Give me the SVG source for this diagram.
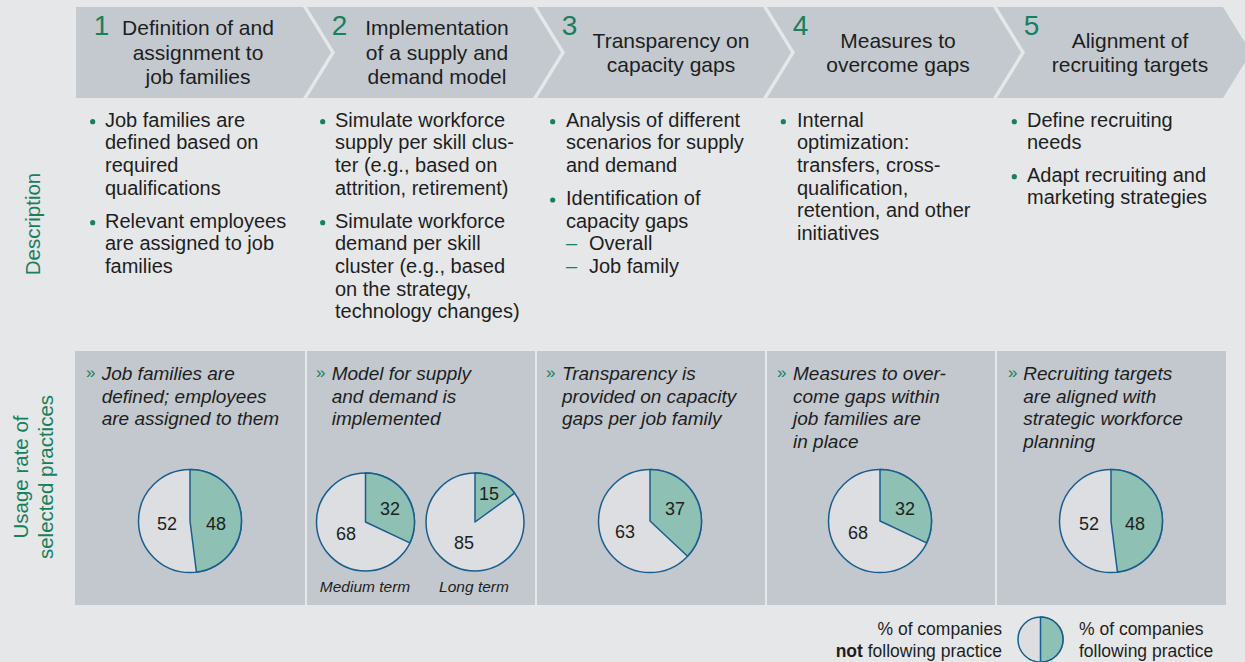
<svg xmlns="http://www.w3.org/2000/svg" width="1245" height="662" viewBox="0 0 1245 662">
<style>
.bg{fill:#e6e7e9}
.chev{fill:#c3c9cf}
.box{fill:#c2c8ce}
text{font-family:"Liberation Sans",Arial,sans-serif}
.num{font-size:28px;fill:#17805c;text-anchor:middle}
.ht{font-size:21px;fill:#1e1e1e;text-anchor:middle}
.dt{font-size:20px;fill:#1e1e1e}
.dash{font-size:20px;fill:#17805c}
.bul{fill:#17805c}
.lab{font-size:20.5px;fill:#17805c;text-anchor:middle}
.it{font-size:19px;font-style:italic;fill:#1e1e1e}
.raq{font-size:17px;fill:#17805c}
.pv{font-size:18px;fill:#1e1e1e;text-anchor:middle}
.cap{font-size:15.5px;font-style:italic;fill:#1e1e1e;text-anchor:middle}
.leg{font-size:17.5px;fill:#1e1e1e}
.pc{fill:#dcdee1;stroke:#1a5e8e;stroke-width:1.5}
.ps{fill:#8ec0b3;stroke:#1a5e8e;stroke-width:1.5;stroke-linejoin:round}
</style>
<rect class="bg" x="0" y="0" width="1245" height="662"/>

<g id="row-labels">
<text class="lab" transform="translate(40,224) rotate(-90)">Description</text>
<text class="lab" transform="translate(28,477) rotate(-90)">Usage rate of</text>
<text class="lab" transform="translate(53,477) rotate(-90)">selected practices</text>
</g>

<g id="step1">
<path class="chev" d="M76,7 H303 L331,52.5 L303,98 H76 Z"/>
<text class="num" x="101.5" y="35">1</text>
<text class="ht" x="198" y="35">Definition of and</text>
<text class="ht" x="198" y="59.5">assignment to</text>
<text class="ht" x="198" y="83.5">job families</text>
<circle class="bul" cx="92.7" cy="121.7" r="2.6"/>
<text class="dt" x="105" y="126.7">Job families are</text>
<text class="dt" x="105" y="149.3">defined based on</text>
<text class="dt" x="105" y="171.9">required</text>
<text class="dt" x="105" y="194.5">qualifications</text>
<circle class="bul" cx="92.7" cy="222.7" r="2.6"/>
<text class="dt" x="105" y="227.7">Relevant employees</text>
<text class="dt" x="105" y="250.3">are assigned to job</text>
<text class="dt" x="105" y="272.9">families</text>
<rect class="box" x="75" y="351" width="230" height="254"/>
<text class="raq" x="86" y="378">»</text>
<text class="it" x="101.7" y="380">Job families are</text>
<text class="it" x="101.7" y="402.7">defined; employees</text>
<text class="it" x="101.7" y="425.4">are assigned to them</text>
<circle class="pc" cx="190" cy="521" r="51.5"/>
<path class="ps" d="M190,469.5 A51.5,51.5 0 0 1 196.45,572.09 L190,521 Z"/>
<text class="pv" x="167" y="529.5">52</text>
<text class="pv" x="216" y="529.5">48</text>
</g>

<g id="step2">
<path class="chev" d="M307,7 H533 L561,52.5 L533,98 H307 L335,52.5 Z"/>
<text class="num" x="339.5" y="35">2</text>
<text class="ht" x="437" y="35">Implementation</text>
<text class="ht" x="437" y="59.5">of a supply and</text>
<text class="ht" x="437" y="83.5">demand model</text>
<circle class="bul" cx="322.7" cy="121.7" r="2.6"/>
<text class="dt" x="335" y="126.7">Simulate workforce</text>
<text class="dt" x="335" y="149.3">supply per skill clus-</text>
<text class="dt" x="335" y="171.9">ter (e.g., based on</text>
<text class="dt" x="335" y="194.5">attrition, retirement)</text>
<circle class="bul" cx="322.7" cy="222.7" r="2.6"/>
<text class="dt" x="335" y="227.7">Simulate workforce</text>
<text class="dt" x="335" y="250.3">demand per skill</text>
<text class="dt" x="335" y="272.9">cluster (e.g., based</text>
<text class="dt" x="335" y="295.5">on the strategy,</text>
<text class="dt" x="335" y="318.1">technology changes)</text>
<rect class="box" x="307" y="351" width="228" height="254"/>
<text class="raq" x="316" y="378">»</text>
<text class="it" x="331.7" y="380">Model for supply</text>
<text class="it" x="331.7" y="402.7">and demand is</text>
<text class="it" x="331.7" y="425.4">implemented</text>
<circle class="pc" cx="365.5" cy="522" r="49"/>
<path class="ps" d="M365.5,473 A49,49 0 0 1 409.84,542.86 L365.5,522 Z"/>
<text class="pv" x="390" y="514.5">32</text>
<text class="pv" x="346" y="539.5">68</text>
<circle class="pc" cx="475" cy="522" r="49"/>
<path class="ps" d="M475,473 A49,49 0 0 1 514.64,493.2 L475,522 Z"/>
<text class="pv" x="489" y="499.5">15</text>
<text class="pv" x="464" y="548.5">85</text>
<text class="cap" x="365" y="592">Medium term</text>
<text class="cap" x="474" y="592">Long term</text>
</g>

<g id="step3">
<path class="chev" d="M537,7 H763 L791,52.5 L763,98 H537 L565,52.5 Z"/>
<text class="num" x="569.5" y="35">3</text>
<text class="ht" x="671" y="48">Transparency on</text>
<text class="ht" x="671" y="72">capacity gaps</text>
<circle class="bul" cx="552.7" cy="121.7" r="2.6"/>
<text class="dt" x="566" y="126.7">Analysis of different</text>
<text class="dt" x="566" y="149.3">scenarios for supply</text>
<text class="dt" x="566" y="171.9">and demand</text>
<circle class="bul" cx="552.7" cy="200" r="2.6"/>
<text class="dt" x="566" y="205">Identification of</text>
<text class="dt" x="566" y="227.6">capacity gaps</text>
<text class="dash" x="566" y="250.2">–</text>
<text class="dt" x="589" y="250.2">Overall</text>
<text class="dash" x="566" y="272.8">–</text>
<text class="dt" x="589" y="272.8">Job family</text>
<rect class="box" x="537" y="351" width="228" height="254"/>
<text class="raq" x="546" y="378">»</text>
<text class="it" x="562" y="380">Transparency is</text>
<text class="it" x="562" y="402.7">provided on capacity</text>
<text class="it" x="562" y="425.4">gaps per job family</text>
<circle class="pc" cx="650" cy="521" r="51.5"/>
<path class="ps" d="M650,469.5 A51.5,51.5 0 0 1 687.54,556.25 L650,521 Z"/>
<text class="pv" x="625" y="538">63</text>
<text class="pv" x="675" y="515">37</text>
</g>

<g id="step4">
<path class="chev" d="M767,7 H993 L1021,52.5 L993,98 H767 L795,52.5 Z"/>
<text class="num" x="800.5" y="35">4</text>
<text class="ht" x="898" y="48">Measures to</text>
<text class="ht" x="898" y="72">overcome gaps</text>
<circle class="bul" cx="783.3" cy="121.7" r="2.6"/>
<text class="dt" x="797" y="126.7">Internal</text>
<text class="dt" x="797" y="149.3">optimization:</text>
<text class="dt" x="797" y="171.9">transfers, cross-</text>
<text class="dt" x="797" y="194.5">qualification,</text>
<text class="dt" x="797" y="217.1">retention, and other</text>
<text class="dt" x="797" y="239.7">initiatives</text>
<rect class="box" x="767" y="351" width="228" height="254"/>
<text class="raq" x="777" y="378">»</text>
<text class="it" x="793" y="380">Measures to over-</text>
<text class="it" x="793" y="402.7">come gaps within</text>
<text class="it" x="793" y="425.4">job families are</text>
<text class="it" x="793" y="448.1">in place</text>
<circle class="pc" cx="880" cy="521" r="51.5"/>
<path class="ps" d="M880,469.5 A51.5,51.5 0 0 1 926.6,542.93 L880,521 Z"/>
<text class="pv" x="858" y="538.5">68</text>
<text class="pv" x="905" y="514.5">32</text>
</g>

<g id="step5">
<path class="chev" d="M997,7 H1223 L1251,52.5 L1223,98 H997 L1025,52.5 Z"/>
<text class="num" x="1031.5" y="35">5</text>
<text class="ht" x="1130" y="48">Alignment of</text>
<text class="ht" x="1130" y="72">recruiting targets</text>
<circle class="bul" cx="1014.3" cy="121.7" r="2.6"/>
<text class="dt" x="1027" y="126.7">Define recruiting</text>
<text class="dt" x="1027" y="149.3">needs</text>
<circle class="bul" cx="1014.3" cy="176.7" r="2.6"/>
<text class="dt" x="1027" y="181.7">Adapt recruiting and</text>
<text class="dt" x="1027" y="204.3">marketing strategies</text>
<rect class="box" x="997" y="351" width="229" height="254"/>
<text class="raq" x="1008" y="378">»</text>
<text class="it" x="1023.3" y="380">Recruiting targets</text>
<text class="it" x="1023.3" y="402.7">are aligned with</text>
<text class="it" x="1023.3" y="425.4">strategic workforce</text>
<text class="it" x="1023.3" y="448.1">planning</text>
<circle class="pc" cx="1111" cy="521" r="51.5"/>
<path class="ps" d="M1111,469.5 A51.5,51.5 0 0 1 1117.45,572.09 L1111,521 Z"/>
<text class="pv" x="1089" y="529.5">52</text>
<text class="pv" x="1135" y="529.5">48</text>
</g>

<g id="legend">
<text class="leg" x="1002" y="635" text-anchor="end">% of companies</text>
<text class="leg" x="1002" y="656.7" text-anchor="end"><tspan font-weight="bold">not</tspan> following practice</text>
<circle class="pc" cx="1040.5" cy="639.5" r="22.5"/>
<path class="ps" d="M1040.5,617 A22.5,22.5 0 0 1 1040.5,662 Z"/>
<text class="leg" x="1079" y="635">% of companies</text>
<text class="leg" x="1079" y="656.7">following practice</text>
</g>
</svg>
